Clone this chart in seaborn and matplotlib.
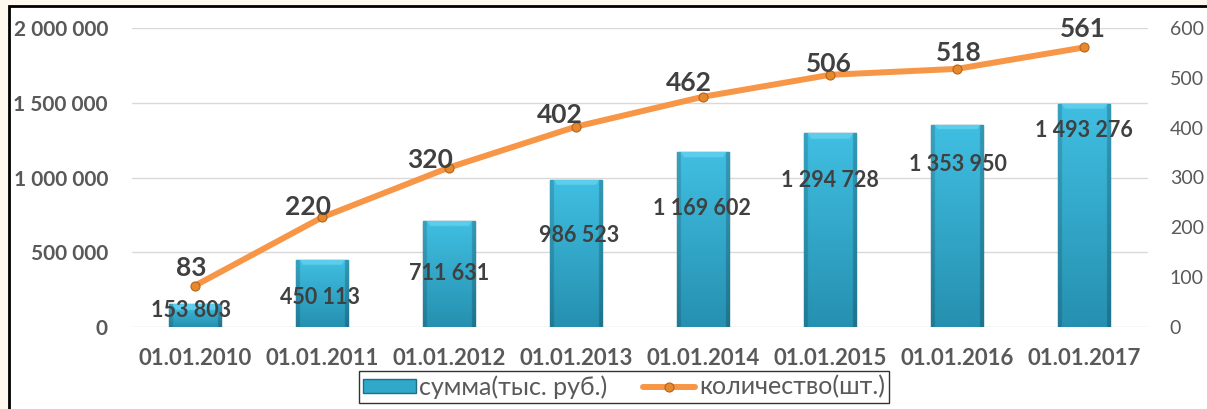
import numpy as np
import pandas as pd
import matplotlib
matplotlib.use('Agg')
import matplotlib.pyplot as plt
import seaborn as sns
from matplotlib.patches import Rectangle
from matplotlib.lines import Line2D
from matplotlib.colors import to_rgb

# data
dates = ['01.01.2010', '01.01.2011', '01.01.2012', '01.01.2013',
         '01.01.2014', '01.01.2015', '01.01.2016', '01.01.2017']
amounts = [153803, 450113, 711631, 986523, 1169602, 1294728, 1353950, 1493276]
counts = [83, 220, 320, 402, 462, 506, 518, 561]

amount_ticks = [0, 500000, 1000000, 1500000, 2000000]
count_ticks = [0, 100, 200, 300, 400, 500, 600]

# label nudges (pixels) so labels sit where they do in the original
amount_label_off = [(-4, -6), (-2, -38), (0, -53), (3, -56), (-1, -56), (0, -47), (1, -40), (0, -27)]
count_label_off = [(-4, 18), (-14, 10), (-19, 8), (-16, 12), (-14, 14), (-1, 11), (2, 16), (-1, 18)]

TICK_C = '#595959'
LABEL_C = '#404040'


def fmt(v):
    return f'{v:,}'.replace(',', ' ')


sns.set_theme(style='white')
plt.rcParams['font.family'] = ['Lato', 'Noto Sans', 'DejaVu Sans']

W, H = 1207, 409
fig = plt.figure(figsize=(W / 100, H / 100), dpi=100, facecolor='#FEF9EE')
# white chart area with black top/left border
fig.patches.append(Rectangle((9 / W, -0.2), 1.5, 1.2 - 6 / H, transform=fig.transFigure,
                             facecolor='white', edgecolor='black', lw=2, zorder=-10))

ax = fig.add_axes([131.5 / W, 82 / H, 1016 / W, 299 / H])
ax.set_facecolor('none')

df = pd.DataFrame({'date': dates, 'amount': amounts, 'count': counts})

sns.barplot(data=df, x='date', y='amount', color='#2FA8C9', width=0.41, saturation=1,
            edgecolor='#1D6E86', linewidth=1, ax=ax, zorder=2)

# bevel-ish gradient on each bar
top_c = np.array(to_rgb('#40BFE2'))
bot_c = np.array(to_rgb('#2690B0'))
cap_c = np.array(to_rgb('#5CCDEB'))
for p in ax.patches:
    x0, y0, w, h = p.get_x(), p.get_y(), p.get_width(), p.get_height()
    rows, cols = 200, 40
    t = np.linspace(1, 0, rows)[:, None, None]
    img = bot_c * (1 - t) + top_c * t
    img = np.repeat(img, cols, axis=1)
    prof = np.ones(cols)
    prof[:3] = 0.85
    prof[-3:] = 0.8
    img = img * prof[None, :, None]
    cap_rows = int(rows * min(0.9, 40000 / h))
    for r in range(cap_rows):
        k = 3 + int(r * 3 / max(cap_rows, 1))
        img[r, k:cols - k] = cap_c
    im = ax.imshow(np.clip(img, 0, 1), extent=(x0, x0 + w, y0, y0 + h), aspect='auto',
                   origin='upper', zorder=2.5, interpolation='bilinear')
    im.set_clip_path(p)

for i, (v, off) in enumerate(zip(amounts, amount_label_off)):
    ax.annotate(fmt(v), (i, v), xytext=off, textcoords='offset pixels', ha='center', va='center',
                fontsize=15.5, fontweight='bold', color=LABEL_C, zorder=5)

ax.set_xlim(-0.5, len(dates) - 0.5)
ax.set_ylim(0, 2000000)
ax.set_yticks(amount_ticks)
ax.set_yticklabels([fmt(v) for v in amount_ticks])
ax.yaxis.grid(True, color='#D9D9D9', lw=1)
ax.set_axisbelow(True)
ax.set_xlabel('')
ax.set_ylabel('')
for s in ax.spines.values():
    s.set_visible(False)
ax.tick_params(axis='y', length=0, pad=17, labelsize=15, labelcolor=TICK_C)
ax.tick_params(axis='x', length=0, pad=15, labelsize=16, labelcolor=TICK_C)
for lbl in ax.get_yticklabels() + ax.get_xticklabels():
    lbl.set_fontweight('bold')

ax2 = ax.twinx()
sns.lineplot(data=df, x='date', y='count', sort=False, ax=ax2, color='#F79646', lw=4.3,
             marker='o', markersize=6.5, markerfacecolor='#E5892C', markeredgecolor='#B8621A',
             markeredgewidth=0.8, solid_capstyle='round', solid_joinstyle='round')
ax2.set_ylim(0, 600)
ax2.set_yticks(count_ticks)
ax2.set_ylabel('')
ax2.set_xlabel('')
for s in ax2.spines.values():
    s.set_visible(False)
ax2.tick_params(axis='y', length=0, pad=16, labelsize=14, labelcolor=TICK_C)

for i, (v, off) in enumerate(zip(counts, count_label_off)):
    ax2.annotate(str(v), (i, v), xytext=off, textcoords='offset pixels', ha='center', va='center',
                 fontsize=19, fontweight='bold', color=LABEL_C, zorder=6)

handles = [Rectangle((0, 0), 1, 1, facecolor='#2FA8C9', edgecolor='#1D6E86', lw=1),
           Line2D([0], [0], color='#F79646', lw=4.3, marker='o', markersize=6.5,
                  markerfacecolor='#E5892C', markeredgecolor='#B8621A', markeredgewidth=0.8)]
leg = fig.legend(handles, ['сумма(тыс. руб.)', 'количество(шт.)'], loc='center',
                 bbox_to_anchor=(624 / W, 1 - 387 / H), ncol=2, frameon=True, fancybox=False,
                 edgecolor='black', fontsize=18, labelcolor=TICK_C, handlelength=2.1,
                 handleheight=0.5, handletextpad=0.15, columnspacing=1.4, borderpad=0.15,
                 borderaxespad=0)
leg.get_frame().set_linewidth(1)

fig.savefig('out.png', dpi=100, facecolor=fig.get_facecolor())
